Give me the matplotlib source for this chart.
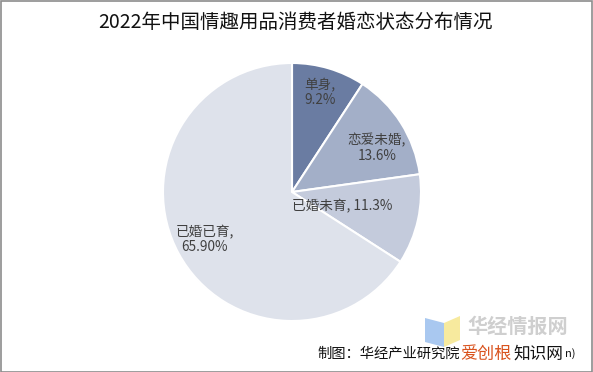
import numpy as np
import matplotlib.pyplot as plt
from matplotlib.patches import Polygon, Rectangle

plt.rcParams['font.family'] = ['Noto Sans CJK SC', 'DejaVu Sans']

# 数据
labels = ['单身', '恋爱未婚', '已婚未育', '已婚已育']
values = [9.2, 13.6, 11.3, 65.9]
value_texts = ['9.2%', '13.6%', '11.3%', '65.90%']
colors = ['#6a7ca2', '#a3afc8', '#c4cbdc', '#dee2eb']

fig = plt.figure(figsize=(5.93, 3.72), dpi=100)
W, H = 593, 372

# 饼图区域: 中心(292,192) 半径129 像素
cx, cy, R = 292, 192, 129
ax = fig.add_axes([(cx - R) / W, 1 - (cy + R) / H, 2 * R / W, 2 * R / H])
wedges, _ = ax.pie(values, colors=colors, startangle=90, counterclock=False,
                   wedgeprops=dict(edgecolor='white', linewidth=1.5))
ax.set_aspect('equal')
ax.set_xlim(-1, 1)
ax.set_ylim(-1, 1)

# 标签
label_pos = [(0.80, 1), (0.74, -5), (0.40, -3), (0.77, 0)]
two_line = [True, True, False, True]
for w, lab, vt, (rf, da), tl in zip(wedges, labels, value_texts, label_pos, two_line):
    ang = np.deg2rad((w.theta1 + w.theta2) / 2 + da)
    x, y = rf * np.cos(ang), rf * np.sin(ang)
    txt = f'{lab},\n{vt}' if tl else f'{lab}, {vt}'
    ax.text(x, y, txt, ha='center', va='center', fontsize=9.8,
            color='#404040', linespacing=1.1)

# 标题
fig.text(295 / W, 1 - 23 / H, '2022年中国情趣用品消费者婚恋状态分布情况',
         ha='center', va='center', fontsize=14, fontweight='medium',
         color='#111111')

# 水印 logo
fig.patches.append(Polygon([(425 / W, 1 - 318 / H), (444 / W, 1 - 323 / H),
                            (444 / W, 1 - 347 / H), (425 / W, 1 - 342 / H)],
                           closed=True, transform=fig.transFigure,
                           facecolor='#a9c8f0', edgecolor='none'))
fig.patches.append(Polygon([(444 / W, 1 - 323 / H), (460 / W, 1 - 316 / H),
                            (460 / W, 1 - 340 / H), (444 / W, 1 - 347 / H)],
                           closed=True, transform=fig.transFigure,
                           facecolor='#f7ea9e', edgecolor='none'))
fig.text(467 / W, 1 - 326 / H, '华经情报网', ha='left', va='center',
         fontsize=14.5, fontweight='bold', color='#cfcfcf')

# 来源
fig.text(317 / W, 1 - 354 / H, '制图：华经产业研究院', ha='left', va='center',
         fontsize=10.3, color='#111111')
fig.text(460 / W, 1 - 354 / H, '爱创根', ha='left', va='center',
         fontsize=12.3, color='#d9531e')
fig.text(513 / W, 1 - 354 / H, '知识网', ha='left', va='center',
         fontsize=12, color='#111111')
fig.text(565 / W, 1 - 354 / H, 'n)', ha='left', va='center',
         fontsize=8, color='#111111')

# 边框
fig.patches.append(Rectangle((0.5 / W, 0.5 / H), 1 - 1.5 / W, 1 - 1.5 / H,
                             transform=fig.transFigure, fill=False,
                             edgecolor='#8c8c8c', linewidth=1.2))

fig.savefig('out.png', dpi=100)
plt.close()
